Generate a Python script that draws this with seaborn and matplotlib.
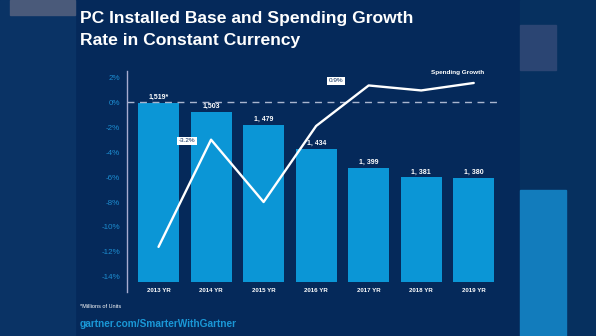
import matplotlib
matplotlib.use("Agg")
import matplotlib.pyplot as plt
import seaborn as sns
import numpy as np
import pandas as pd
from matplotlib.patches import Rectangle

# ---- data ----
years = ["2013 YR", "2014 YR", "2015 YR", "2016 YR", "2017 YR", "2018 YR", "2019 YR"]
installed_base = [1519, 1503, 1479, 1434, 1399, 1381, 1380]
base_labels = ["1,519*", "1,503", "1, 479", "1, 434", "1, 399", "1, 381", "1, 380"]
spending_growth = [-11.6, -3.0, -8.0, -1.9, 1.35, 0.95, 1.55]
pct_ticks = [2, 0, -2, -4, -6, -8, -10, -12, -14]
pct_labels = ["2%", "0%", "-2%", "-4%", "-6%", "-8%", "-10%", "-12%", "-14%"]

NAVY = "#05295a"
BAR = "#0b96d6"
TICK = "#1d8ccf"
SPINE = "#a7acd0"

sns.set_theme(style="white")
plt.rcParams['font.family'] = ['Liberation Sans', 'DejaVu Sans']

W, H = 596, 336
fig = plt.figure(figsize=(W / 100, H / 100), dpi=100, facecolor=NAVY)

# decorative blurred side panels
fig.patches.append(Rectangle((0, 0), 75 / W, 1, transform=fig.transFigure,
                             color="#0a3365", zorder=-5))
fig.patches.append(Rectangle((10 / W, 1 - 15 / H), 65 / W, 15 / H, transform=fig.transFigure,
                             color="#4a5a7a", zorder=-4))
fig.patches.append(Rectangle((520 / W, 0), 76 / W, 1, transform=fig.transFigure,
                             color="#06305f", zorder=-5))
fig.patches.append(Rectangle((520 / W, 0), 46 / W, 146 / H, transform=fig.transFigure,
                             color="#127cbc", zorder=-4))
fig.patches.append(Rectangle((520 / W, 1 - 70 / H), 36 / W, 45 / H, transform=fig.transFigure,
                             color="#2b4573", zorder=-4))

# ---- bars (installed base) ----
ax_bar = fig.add_axes([127 / W, 1 - 282.3 / H, 373 / W, (282.3 - 71) / H])
df = pd.DataFrame({"year": years, "base": installed_base})
sns.barplot(data=df, x="year", y="base", ax=ax_bar, color=BAR, width=0.78,
            saturation=1, linewidth=0)
ax_bar.set_ylim(1186, 1579)
ax_bar.set_xlim(-0.6, 6.5)
ax_bar.set_facecolor("none")
for s in ax_bar.spines.values():
    s.set_visible(False)
ax_bar.set_yticks([])
ax_bar.set_xlabel("")
ax_bar.set_ylabel("")
ax_bar.tick_params(axis="x", length=0, pad=4.2, labelsize=4.4, labelcolor="white")
for lab in ax_bar.get_xticklabels():
    lab.set_fontweight("bold")
ax_bar.bar_label(ax_bar.containers[0], labels=base_labels, padding=1.5,
                 color="white", fontsize=5, fontweight="bold")

# ---- line (spending growth) ----
ax_line = fig.add_axes([127 / W, 1 - 292 / H, 373 / W, (292 - 71) / H])
ax_line.set_facecolor("none")
ax_line.axhline(0, color="#a9b5cf", lw=1.0, ls=(0, (5, 4)), zorder=3)
sns.lineplot(x=np.arange(len(years)), y=spending_growth, ax=ax_line,
             color="white", lw=1.7, zorder=4)
ax_line.set_xlim(-0.6, 6.5)
ax_line.set_ylim(-15.22, 2.51)
ax_line.set_yticks(pct_ticks)
ax_line.set_yticklabels(pct_labels)
ax_line.set_xticks([])
ax_line.tick_params(axis="y", length=0, pad=5, labelsize=5.8, labelcolor=TICK)
for k in ["top", "right", "bottom"]:
    ax_line.spines[k].set_visible(False)
ax_line.spines["left"].set_color(SPINE)
ax_line.spines["left"].set_linewidth(1.0)

ax_line.text(0.54, -3.1, "-3.2%", ha="center", va="center", fontsize=4.6,
             color=NAVY, bbox=dict(boxstyle="square,pad=0.25", fc="white", ec="none"), zorder=5)
ax_line.text(3.38, 1.71, "0.9%", ha="center", va="center", fontsize=4.6,
             color=NAVY, bbox=dict(boxstyle="square,pad=0.25", fc="white", ec="none"), zorder=5)
ax_line.text(5.69, 2.35, "Spending Growth", ha="center", va="center", fontsize=4.6,
             color="white", fontweight="bold", zorder=5)

# ---- titles / footnotes ----
fig.text(80 / W, 1 - 22.7 / H, "PC Installed Base and Spending Growth", va="baseline",
         ha="left", fontsize=12.6, fontweight="bold", color="white")
fig.text(80 / W, 1 - 45 / H, "Rate in Constant Currency", va="baseline",
         ha="left", fontsize=12.6, fontweight="bold", color="white")
fig.text(80 / W, 1 - 306 / H, "*Millions of Units", va="center", ha="left",
         fontsize=4.0, color="white")
fig.text(80 / W, 1 - 327 / H, "gartner.com/SmarterWithGartner", va="baseline", ha="left",
         fontsize=7.3, fontweight="bold", color="#1a97d6")

fig.savefig("out.png", dpi=100, facecolor=NAVY)
